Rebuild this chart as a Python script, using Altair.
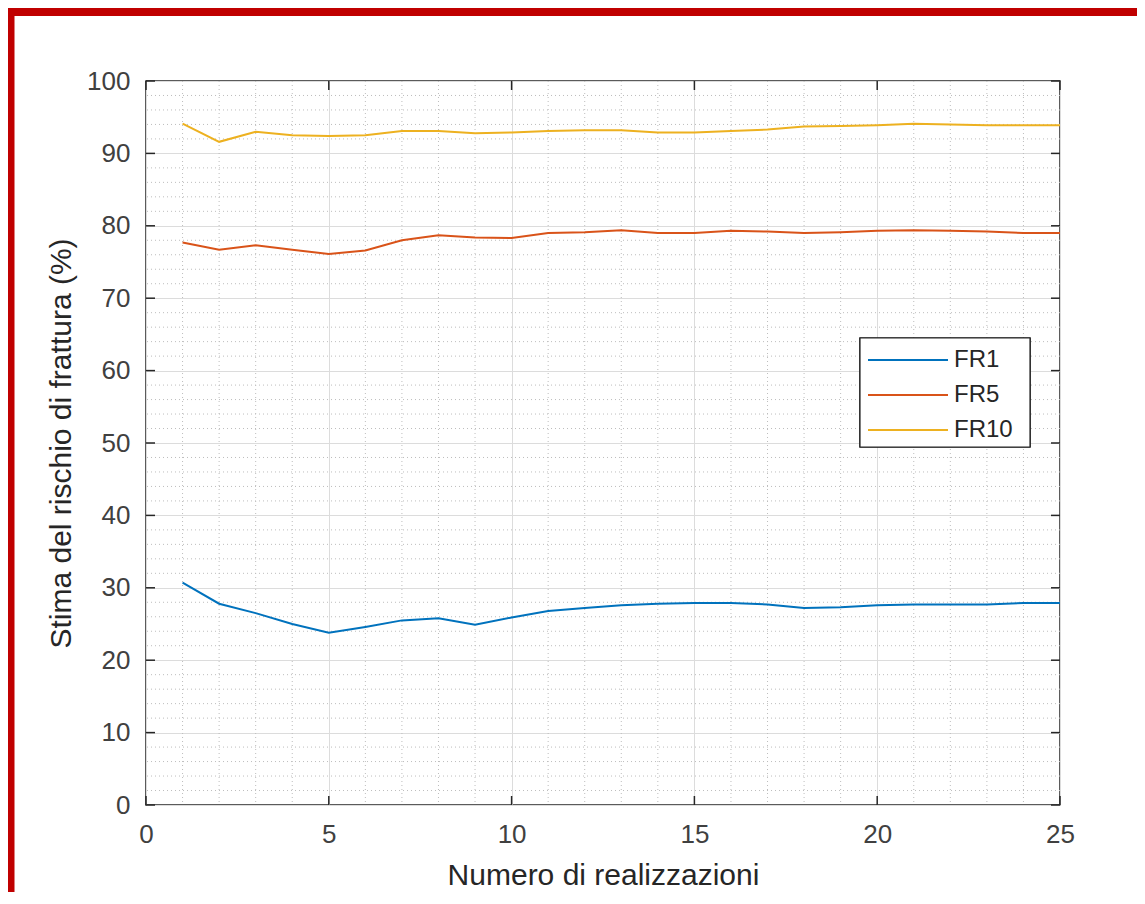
import altair as alt
import pandas as pd

# ---- data ----
realizzazioni = list(range(1, 26))
fr1 = [30.7, 27.8, 26.5, 25.0, 23.8, 24.6, 25.5, 25.8, 24.9, 25.9, 26.8, 27.2, 27.6,
       27.8, 27.9, 27.9, 27.7, 27.2, 27.3, 27.6, 27.7, 27.7, 27.7, 27.9, 27.9]
fr5 = [77.7, 76.7, 77.3, 76.7, 76.1, 76.6, 78.0, 78.7, 78.4, 78.3, 79.0, 79.1, 79.4,
       79.0, 79.0, 79.3, 79.2, 79.0, 79.1, 79.3, 79.4, 79.3, 79.2, 79.0, 79.0]
fr10 = [94.1, 91.6, 93.0, 92.5, 92.4, 92.5, 93.1, 93.1, 92.8, 92.9, 93.1, 93.2, 93.2,
        92.9, 92.9, 93.1, 93.3, 93.7, 93.8, 93.9, 94.1, 94.0, 93.9, 93.9, 93.9]
series_names = ["FR1", "FR5", "FR10"]
series_colors = ["#0072BD", "#D95319", "#EDB120"]
x_major = [0, 5, 10, 15, 20, 25]
y_major = [0, 10, 20, 30, 40, 50, 60, 70, 80, 90, 100]
x_minor = [v for v in range(0, 26) if v % 5 != 0]
y_minor = [v for v in range(0, 101, 2) if v % 10 != 0]

W, H = 914, 724
FONT = "Liberation Sans"

rows = []
for name, vals in zip(series_names, [fr1, fr5, fr10]):
    for xv, yv in zip(realizzazioni, vals):
        rows.append({"n": xv, "v": yv, "serie": name})
df = pd.DataFrame(rows)

xscale = alt.Scale(domain=[0, 25], nice=False, zero=False)
yscale = alt.Scale(domain=[0, 100], nice=False, zero=False)
cscale = alt.Scale(domain=series_names, range=series_colors)

xaxis = alt.Axis(values=x_major, title="Numero di realizzazioni", grid=True,
                 gridColor="#dcdcdc", gridWidth=1, ticks=False, domain=False,
                 labelFlush=False, labelOverlap=False, labelFontSize=26,
                 labelColor="#404040", labelPadding=16, titleFontSize=30,
                 titleFontWeight="normal", titleColor="#262626", titlePadding=13,
                 labelFont=FONT, titleFont=FONT)
yaxis = alt.Axis(values=y_major, title="Stima del rischio di frattura (%)", grid=True,
                 gridColor="#dcdcdc", gridWidth=1, ticks=False, domain=False,
                 labelFlush=False, labelOverlap=False, labelFontSize=26,
                 labelColor="#404040", labelPadding=16, titleFontSize=30,
                 titleFontWeight="normal", titleColor="#262626", titlePadding=10,
                 labelFont=FONT, titleFont=FONT)

minor_x = alt.Chart(pd.DataFrame({"n": x_minor})).mark_rule(
    color="#bdbdbd", strokeDash=[1, 3], strokeWidth=1
).encode(x=alt.X("n:Q", scale=xscale, axis=xaxis))

minor_y = alt.Chart(pd.DataFrame({"v": y_minor})).mark_rule(
    color="#bdbdbd", strokeDash=[1, 3], strokeWidth=1
).encode(y=alt.Y("v:Q", scale=yscale, axis=yaxis))

lines = alt.Chart(df).mark_line(strokeWidth=2, clip=True).encode(
    x=alt.X("n:Q", scale=xscale, axis=xaxis),
    y=alt.Y("v:Q", scale=yscale, axis=yaxis),
    color=alt.Color("serie:N", scale=cscale, legend=None),
    detail="serie:N",
)

tick_col = "#262626"
xt = pd.DataFrame({"n": x_major})
yt = pd.DataFrame({"v": y_major})
ticks_bottom = alt.Chart(xt).mark_rule(color=tick_col, strokeWidth=1.5).encode(
    x=alt.X("n:Q", scale=xscale), y=alt.value(H), y2=alt.value(H - 9))
ticks_top = alt.Chart(xt).mark_rule(color=tick_col, strokeWidth=1.5).encode(
    x=alt.X("n:Q", scale=xscale), y=alt.value(0), y2=alt.value(9))
ticks_left = alt.Chart(yt).mark_rule(color=tick_col, strokeWidth=1.5).encode(
    y=alt.Y("v:Q", scale=yscale), x=alt.value(0), x2=alt.value(9))
ticks_right = alt.Chart(yt).mark_rule(color=tick_col, strokeWidth=1.5).encode(
    y=alt.Y("v:Q", scale=yscale), x=alt.value(W - 9), x2=alt.value(W))

main = alt.layer(minor_x, minor_y, lines, ticks_bottom, ticks_top, ticks_left, ticks_right)

# ---- legend (drawn box) ----
leg_df = pd.DataFrame({"serie": series_names})
leg_y = alt.Y("serie:N", scale=alt.Scale(type="point", domain=series_names,
                                         range=[279, 349], padding=0), axis=None)
leg_box = alt.Chart(leg_df).mark_rect(fill="white", stroke="#262626", strokeWidth=1.2).encode(
    x=alt.value(714), x2=alt.value(884), y=alt.value(257), y2=alt.value(366))
leg_lines = alt.Chart(leg_df).mark_rule(strokeWidth=2).encode(
    x=alt.value(722), x2=alt.value(802), y=leg_y,
    color=alt.Color("serie:N", scale=cscale, legend=None))
leg_text = alt.Chart(leg_df).mark_text(align="left", baseline="middle", fontSize=24,
                                       font=FONT, color="#262626").encode(
    x=alt.value(808), y=leg_y, text="serie:N")
legend = alt.layer(leg_box, leg_lines, leg_text)

# ---- red frame of the picture ----
frame_left = alt.Chart(leg_df.head(1)).mark_rule(color="#c00000", strokeWidth=7).encode(
    x=alt.value(-135), y=alt.value(-73), y2=alt.value(H + 90))
frame_top = alt.Chart(leg_df.head(1)).mark_rule(color="#c00000", strokeWidth=8).encode(
    x=alt.value(-138), x2=alt.value(W + 80), y=alt.value(-69))
frame = alt.layer(frame_left, frame_top)

chart = alt.layer(main, legend, frame).resolve_scale(y="independent").properties(
    width=W, height=H,
    autosize=alt.AutoSizeParams(type="none"),
    padding={"left": 138, "top": 73, "right": 77, "bottom": 87},
    background="white",
).configure_view(stroke="#262626", strokeWidth=1.5)

chart.save("out.html", embed_options={"renderer": "svg", "actions": False})
